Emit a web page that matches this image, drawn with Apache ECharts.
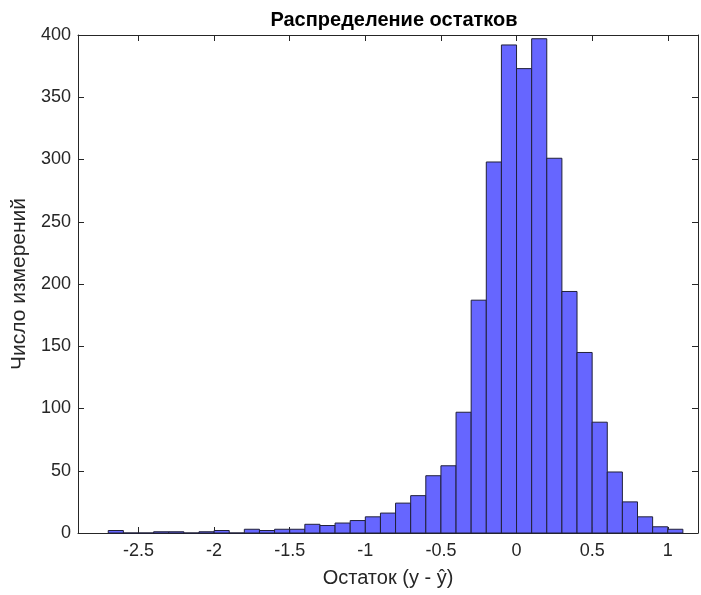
<!DOCTYPE html>
<html>
<head>
<meta charset="utf-8">
<script src="https://cdn.jsdelivr.net/npm/echarts@6/dist/echarts.min.js"></script>
<style>
  html, body { margin: 0; padding: 0; background: #ffffff; }
  #chart { width: 701px; height: 595px; }
</style>
</head>
<body>
<div id="chart"></div>
<script>
// ---- data ----
const titleText = 'Распределение остатков';
const xAxisName = 'Остаток (y - ŷ)';
const yAxisName = 'Число измерений';
const binWidth = 0.1;
const binCenters = [
  -2.65, -2.55, -2.45, -2.35, -2.25, -2.15, -2.05, -1.95, -1.85, -1.75,
  -1.65, -1.55, -1.45, -1.35, -1.25, -1.15, -1.05, -0.95, -0.85, -0.75,
  -0.65, -0.55, -0.45, -0.35, -0.25, -0.15, -0.05, 0.05, 0.15, 0.25,
  0.35, 0.45, 0.55, 0.65, 0.75, 0.85, 0.95, 1.05
];
const counts = [
  2, 0, 0, 1, 1, 0, 1, 2, 0, 3,
  2, 3, 3, 7, 6, 8, 10, 13, 16, 24,
  30, 46, 54, 97, 187, 298, 392, 373, 397, 301,
  194, 145, 89, 49, 25, 13, 5, 3
];
const xTicks = [-2.5, -2, -1.5, -1, -0.5, 0, 0.5, 1];
const yTicks = [0, 50, 100, 150, 200, 250, 300, 350, 400];
const xMin = -2.9, xMax = 1.2;
const yMin = 0, yMax = 400;

// ---- chart ----
const axisColor = '#262626';
const font = '"Liberation Sans", Arial, Helvetica, sans-serif';
const histData = binCenters.map((c, i) => [c - binWidth / 2, c + binWidth / 2, counts[i]]);

const chart = echarts.init(document.getElementById('chart'), null, { renderer: 'canvas' });
chart.setOption({
  animation: false,
  backgroundColor: '#ffffff',
  title: {
    text: titleText,
    left: 389, top: 5, textAlign: 'center',
    textStyle: { fontFamily: font, fontSize: 20, fontWeight: 'bold', color: '#000000' }
  },
  grid: { left: 78, right: 3, top: 35, bottom: 62, containLabel: false },
  xAxis: [{
    type: 'value', min: xMin, max: xMax, position: 'bottom',
    name: xAxisName, nameLocation: 'middle', nameGap: 35,
    nameTextStyle: { fontFamily: font, fontSize: 20, color: axisColor },
    axisLine: { show: true, onZero: false, lineStyle: { color: axisColor, width: 1 } },
    axisTick: { show: true, inside: true, length: 6, customValues: xTicks, lineStyle: { color: axisColor } },
    axisLabel: { customValues: xTicks, margin: 9, fontFamily: font, fontSize: 18, color: axisColor,
      formatter: v => String(v) },
    splitLine: { show: false }
  }, {
    type: 'value', min: xMin, max: xMax, position: 'top',
    axisLine: { show: true, onZero: false, lineStyle: { color: axisColor, width: 1 } },
    axisTick: { show: true, inside: true, length: 6, customValues: xTicks, lineStyle: { color: axisColor } },
    axisLabel: { show: false },
    splitLine: { show: false }
  }],
  yAxis: [{
    type: 'value', min: yMin, max: yMax, interval: 50, position: 'left',
    name: yAxisName, nameLocation: 'middle', nameGap: 46,
    nameTextStyle: { fontFamily: font, fontSize: 21, color: axisColor },
    axisLine: { show: true, onZero: false, lineStyle: { color: axisColor, width: 1 } },
    axisTick: { show: true, inside: true, length: 6, lineStyle: { color: axisColor } },
    axisLabel: { margin: 7, fontFamily: font, fontSize: 18, color: axisColor },
    splitLine: { show: false }
  }, {
    type: 'value', min: yMin, max: yMax, interval: 50, position: 'right',
    axisLine: { show: true, onZero: false, lineStyle: { color: axisColor, width: 1 } },
    axisTick: { show: true, inside: true, length: 6, lineStyle: { color: axisColor } },
    axisLabel: { show: false },
    splitLine: { show: false }
  }],
  series: [{
    type: 'custom',
    xAxisIndex: 0, yAxisIndex: 0,
    encode: { x: [0, 1], y: 2 },
    data: histData,
    renderItem: function (params, api) {
      const x0 = api.value(0), x1 = api.value(1), c = api.value(2);
      const pTop = api.coord([x0, c]);
      const pBot = api.coord([x1, 0]);
      return {
        type: 'rect',
        shape: { x: pTop[0], y: pTop[1], width: pBot[0] - pTop[0], height: pBot[1] - pTop[1] },
        style: { fill: '#6666ff', stroke: '#20203a', lineWidth: 1 }
      };
    }
  }]
});
</script>
</body>
</html>
